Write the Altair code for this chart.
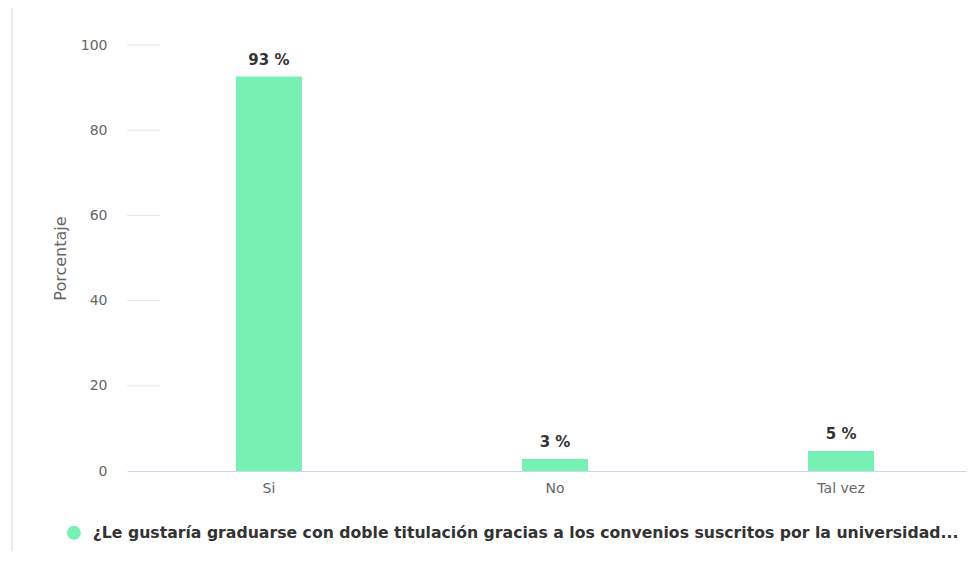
import altair as alt
import pandas as pd

categorias = ["Si", "No", "Tal vez"]
valores = [92.6, 2.8, 4.7]
serie = "¿Le gustaría graduarse con doble titulación gracias a los convenios suscritos por la universidad..."
ticks_y = [20, 40, 60, 80, 100]

FONT = "DejaVu Sans"
GREEN = "#77F0B3"

df = pd.DataFrame({
    "cat": categorias,
    "val": valores,
    "serie": [serie] * len(categorias),
    "lbl": [f"{round(v)} %" for v in valores],
})
df_grid = pd.DataFrame({"val": ticks_y})

x_enc = alt.X(
    "cat:N",
    sort=categorias,
    title=None,
    scale=alt.Scale(paddingInner=0.7692, paddingOuter=0.351, align=0.5423),
    axis=alt.Axis(
        labelAngle=0, labelFont=FONT, labelFontSize=14, labelColor="#666666",
        labelPadding=10, ticks=False, domainColor="#ccd6eb", domainWidth=1,
    ),
)
y_scale = alt.Scale(domain=[0, 100], nice=False)
y_axis = alt.Axis(
    values=[0, 20, 40, 60, 80, 100], grid=False, ticks=False, domain=False,
    labelFont=FONT, labelFontSize=14, labelColor="#666666", labelPadding=20,
    titleFont=FONT, titleFontSize=16, titleFontWeight="normal",
    titleColor="#666666", titlePadding=12,
)
y_enc = alt.Y("val:Q", scale=y_scale, title="Porcentaje", axis=y_axis)

border = alt.Chart(df).mark_rule(color="#e8ecf0", strokeWidth=1.5).encode(
    x=alt.value(-115), y=alt.value(-37), y2=alt.value(506)
)

grid = alt.Chart(df_grid).mark_rule(color="#e6e6e6", strokeWidth=1).encode(
    y=y_enc,
    x=alt.value(0), x2=alt.value(33),
)

bars = alt.Chart(df).mark_bar(color=GREEN).encode(
    x=x_enc,
    y=y_enc,
    color=alt.Color(
        "serie:N",
        scale=alt.Scale(range=[GREEN]),
        legend=alt.Legend(
            title=None, orient="none", legendX=-61, legendY=480,
            symbolType="circle", symbolSize=196, symbolStrokeWidth=0,
            labelFont=FONT, labelFontSize=15.7, labelFontWeight="bold",
            labelColor="#333333", labelLimit=2000, labelOffset=11,
        ),
    ),
)

labels = alt.Chart(df).mark_text(
    font=FONT, fontSize=15, fontWeight="bold", color="#333333",
    baseline="bottom", dy=-9,
).encode(
    x=alt.X("cat:N", sort=categorias),
    y=y_enc,
    text="lbl:N",
)

chart = alt.layer(border, grid, bars, labels).properties(
    width=839, height=426,
    autosize=alt.AutoSizeParams(type="none"),
    padding={"left": 119, "top": 37, "right": 0, "bottom": 80},
).configure_view(stroke=None)

chart.save("out.html", embed_options={"renderer": "svg", "actions": False})
